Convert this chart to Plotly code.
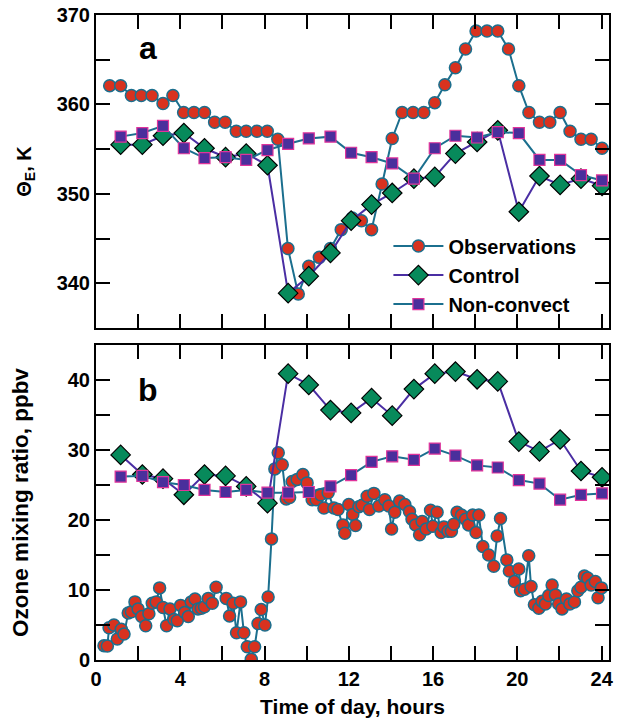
import plotly.graph_objects as go

# ---------------- Panel a: equivalent potential temperature (K) ----------------
obs_a_hours = [0.65, 1.17, 1.68, 2.15, 2.66, 3.18, 3.65, 4.16, 4.65, 5.15, 5.63, 6.13,
               6.66, 7.13, 7.64, 8.13, 8.63, 9.11, 9.6, 10.1, 10.6, 11.13, 11.64, 12.16,
               12.6, 13.08, 13.58, 14.06, 14.53, 15.05, 15.56, 16.08, 16.56, 17.06, 17.54, 18.04,
               18.56, 19.07, 19.58, 20.07, 20.55, 21.05, 21.54, 22.03, 22.5, 23.02, 23.5, 24.02]
obs_a_theta = [362.1, 362.1, 361.0, 361.0, 361.0, 360.1, 361.0, 359.1, 359.1, 359.1, 358.0, 358.0,
               357.0, 357.0, 357.0, 357.0, 356.1, 343.9, 338.8, 341.9, 342.9, 343.9, 346.0, 347.3,
               347.0, 346.0, 351.1, 356.2, 359.1, 359.1, 359.1, 360.2, 362.2, 364.1, 366.2, 368.2,
               368.2, 368.2, 366.2, 362.1, 359.1, 358.0, 358.0, 359.1, 357.0, 356.1, 356.1, 355.1]

model_hours = [1.17, 2.2, 3.18, 4.17, 5.15, 6.15, 7.13, 8.14, 9.12, 10.1, 11.13, 12.11,
               13.08, 14.06, 15.09, 16.08, 17.06, 18.09, 19.07, 20.07, 21.05, 22.03, 23.02, 24.02]
ctl_a_theta = [355.5, 355.5, 356.5, 356.8, 355.1, 354.1, 354.5, 353.2, 338.9, 340.8, 343.4, 347.0,
               348.8, 350.1, 351.7, 351.9, 354.5, 355.8, 357.1, 348.0, 352.0, 351.0, 351.7, 350.9]
nc_a_theta = [356.4, 356.8, 357.6, 355.1, 354.0, 354.1, 353.8, 354.9, 355.6, 356.2, 356.4, 354.6,
              354.1, 353.4, 351.7, 355.1, 356.5, 356.3, 356.9, 356.8, 353.8, 353.8, 352.1, 351.5]

# ---------------- Panel b: ozone mixing ratio (ppbv) ----------------
obs_b_hours = [0.38, 0.54, 0.62, 0.85, 1.01, 1.2, 1.33, 1.53, 1.68, 1.85, 2.0, 2.17,
               2.36, 2.51, 2.67, 2.86, 3.02, 3.18, 3.35, 3.51, 3.7, 3.86, 4.02, 4.21,
               4.38, 4.52, 4.7, 4.84, 5.0, 5.15, 5.33, 5.52, 5.7, 6.18, 6.34, 6.51,
               6.67, 6.86, 7.02, 7.18, 7.37, 7.53, 7.69, 7.84, 8.02, 8.17, 8.33, 8.49,
               8.65, 8.84, 9.03, 9.19, 9.31, 9.55, 9.82, 10.02, 10.26, 10.45, 10.66, 10.82,
               11.02, 11.29, 11.49, 11.72, 11.81, 12.0, 12.19, 12.32, 12.48, 12.63, 12.87, 12.98,
               13.19, 13.43, 13.71, 13.9, 14.03, 14.18, 14.41, 14.66, 14.88, 15.0, 15.17, 15.36,
               15.48, 15.67, 15.88, 15.99, 16.19, 16.38, 16.51, 16.71, 16.87, 16.98, 17.14, 17.35,
               17.54, 17.69, 17.88, 18.04, 18.17, 18.36, 18.64, 18.88, 19.04, 19.2, 19.5, 19.62,
               19.86, 20.07, 20.15, 20.34, 20.54, 20.65, 20.81, 21.02, 21.17, 21.33, 21.49, 21.65,
               21.81, 21.96, 22.12, 22.33, 22.49, 22.71, 22.87, 23.02, 23.18, 23.34, 23.5, 23.7,
               23.83, 23.99]
obs_b_ozone = [2.05, 2.0, 4.6, 5.0, 3.0, 4.4, 3.7, 6.7, 6.9, 8.3, 7.3, 6.2,
               4.9, 6.6, 8.1, 8.3, 10.3, 7.5, 4.9, 7.3, 5.8, 5.6, 7.8, 6.8,
               6.2, 8.3, 8.7, 7.3, 7.4, 7.6, 8.8, 8.1, 10.4, 8.8, 6.3, 8.1,
               3.9, 8.3, 3.9, 1.9, 0.1, 1.9, 5.2, 7.2, 5.0, 9.0, 17.3, 27.3,
               29.6, 27.9, 23.0, 23.2, 25.5, 25.8, 26.5, 25.3, 22.9, 22.9, 23.6, 21.7,
               23.9, 21.7, 21.5, 19.3, 18.1, 22.2, 20.8, 19.2, 21.9, 22.1, 23.4, 21.5,
               23.8, 22.0, 22.9, 22.0, 18.7, 21.1, 22.7, 22.2, 21.2, 20.1, 19.3, 17.9,
               19.8, 18.7, 21.4, 19.1, 21.1, 18.2, 19.0, 18.4, 18.4, 19.4, 21.1, 20.7,
               20.1, 19.3, 20.7, 18.2, 20.7, 16.2, 15.0, 13.4, 17.7, 20.2, 14.3, 12.7,
               11.2, 13.0, 9.9, 10.1, 14.9, 10.5, 7.9, 7.4, 8.4, 8.0, 9.2, 10.7,
               9.3, 8.0, 7.3, 8.7, 8.0, 8.3, 9.9, 10.4, 12.0, 11.7, 10.7, 11.2,
               8.9, 10.3]

ctl_b_ozone = [29.3, 26.5, 25.9, 23.6, 26.5, 26.3, 24.8, 22.4, 40.9, 39.3, 35.7, 35.3,
               37.4, 34.9, 38.7, 40.9, 41.2, 40.1, 39.8, 31.2, 29.8, 31.5, 27.0, 26.1]
nc_b_ozone = [26.2, 26.3, 25.4, 25.0, 24.3, 24.0, 24.3, 23.9, 23.9, 24.0, 24.8, 26.4,
              28.3, 29.1, 28.6, 30.2, 29.2, 27.8, 27.5, 25.7, 25.2, 22.9, 23.6, 23.8]

series_names = ["Observations", "Control", "Non-convect"]

# ---------------- styles ----------------
TEAL = "#1b6f8e"
RED = "#d8321f"
GREEN = "#078a5b"
PURPLE_LINE = "#4a2ea3"
PURPLE_FILL = "#4a2f9c"
MAGENTA = "#e0349b"

FONT = "Liberation Sans"

styles = [
    dict(line=dict(color=TEAL, width=2),
         marker=dict(symbol="circle", size=12, color=RED, line=dict(color=TEAL, width=1.5))),
    dict(line=dict(color=PURPLE_LINE, width=2),
         marker=dict(symbol="diamond", size=15, color=GREEN, line=dict(color="black", width=1.2))),
    dict(line=dict(color=TEAL, width=2),
         marker=dict(symbol="square", size=11, color=PURPLE_FILL, line=dict(color=MAGENTA, width=1.2))),
]

fig = go.Figure()

panel_a = [(obs_a_hours, obs_a_theta), (model_hours, ctl_a_theta), (model_hours, nc_a_theta)]
panel_b = [(obs_b_hours, obs_b_ozone), (model_hours, ctl_b_ozone), (model_hours, nc_b_ozone)]

for i, (xs, ys) in enumerate(panel_b):
    fig.add_trace(go.Scatter(x=xs, y=ys, mode="lines+markers", name=series_names[i],
                             showlegend=False, xaxis="x", yaxis="y", **styles[i]))
for i, (xs, ys) in enumerate(panel_a):
    fig.add_trace(go.Scatter(x=xs, y=ys, mode="lines+markers", name=series_names[i],
                             showlegend=True, xaxis="x2", yaxis="y2", **styles[i]))

x_ticks = list(range(0, 25, 2))
x_text = [str(v) if v % 4 == 0 else " " for v in x_ticks]

a_ticks = [340, 345, 350, 355, 360, 365, 370]
a_text = [str(v) if v % 10 == 0 else " " for v in a_ticks]
b_ticks = [0, 5, 10, 15, 20, 25, 30, 35, 40]
b_text = [str(v) if v % 10 == 0 else " " for v in b_ticks]

tickfont = dict(family=FONT, size=20, color="black", weight=700)
common = dict(showline=True, linecolor="black", linewidth=2, mirror="ticks",
              ticks="inside", ticklen=14, tickwidth=2, tickcolor="black",
              showgrid=False, zeroline=False, tickfont=tickfont, automargin=False)

fig.update_layout(
    width=619, height=722,
    margin=dict(l=96, r=10, t=15, b=62),
    paper_bgcolor="white", plot_bgcolor="white",
    font=dict(family=FONT, color="black"),
    xaxis=dict(domain=[0, 1], range=[0, 24.35], tickmode="array", tickvals=x_ticks,
               ticktext=x_text, anchor="y",
               title=dict(text="Time of day, hours", font=dict(family=FONT, size=21, weight=700),
                          standoff=10),
               **common),
    yaxis=dict(domain=[0, 0.4884], range=[0, 45], tickmode="array", tickvals=b_ticks,
               ticktext=b_text, anchor="x",
               title=dict(text="Ozone mixing ratio, ppbv",
                          font=dict(family=FONT, size=22.5, weight=700), standoff=33),
               **common),
    xaxis2=dict(domain=[0, 1], range=[0, 24.35], tickmode="array", tickvals=x_ticks,
                showticklabels=False, anchor="y2", matches="x", **common),
    yaxis2=dict(domain=[0.5147, 1], range=[335, 370], tickmode="array", tickvals=a_ticks,
                ticktext=a_text, anchor="x2",
                title=dict(text="Θ<sub>E</sub>, K", font=dict(family=FONT, size=20, weight=700),
                           standoff=20),
                **common),
    legend=dict(x=0.57, y=0.672, xanchor="left", yanchor="top",
                font=dict(family=FONT, size=20, weight=700),
                bgcolor="rgba(0,0,0,0)", itemwidth=50, tracegroupgap=0,
                traceorder="normal"),
    annotations=[
        dict(text="a", xref="x2 domain", yref="y2 domain", x=0.101, y=0.895,
             xanchor="center", yanchor="middle",
             showarrow=False, font=dict(family=FONT, size=32, weight=700)),
        dict(text="b", xref="x domain", yref="y domain", x=0.101, y=0.857,
             xanchor="center", yanchor="middle",
             showarrow=False, font=dict(family=FONT, size=32, weight=700)),
    ],
)

fig.write_html("out.html", config={"displayModeBar": False},
               post_script="document.body.style.margin='0px';document.body.style.overflow='hidden';")
